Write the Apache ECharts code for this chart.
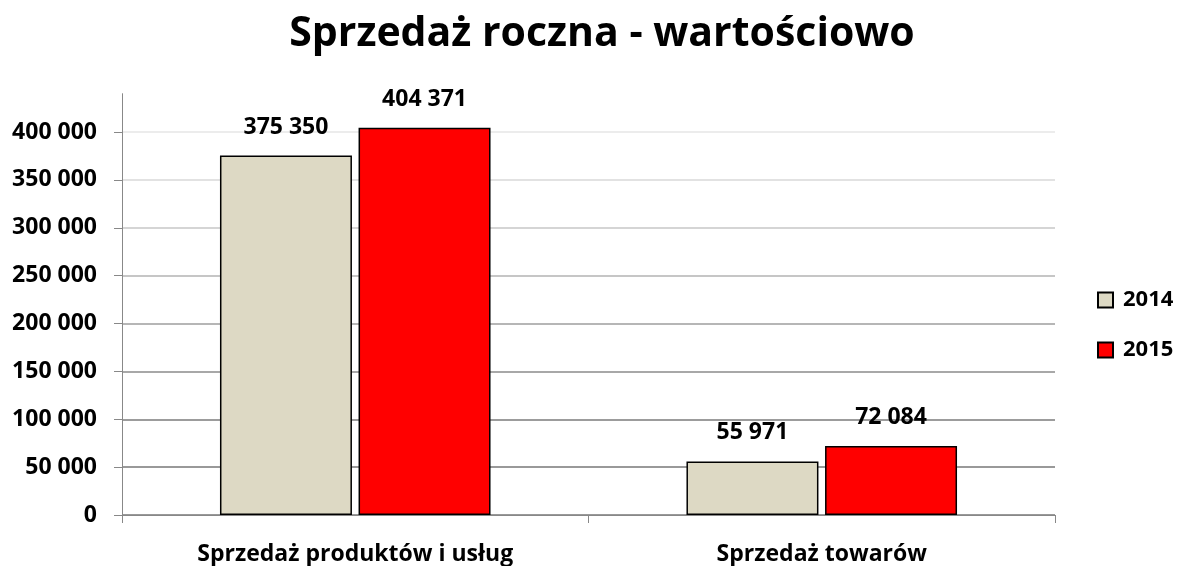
<!DOCTYPE html>
<html>
<head>
<meta charset="utf-8">
<title>Sprzedaż roczna - wartościowo</title>
<script src="https://cdn.jsdelivr.net/npm/echarts@6/dist/echarts.min.js"></script>
<style>
html, body { margin: 0; padding: 0; background: #fff; }
#main { width: 1180px; height: 566px; }
</style>
</head>
<body>
<div id="main"></div>
<script>
var categories = ['Sprzedaż produktów i usług', 'Sprzedaż towarów'];
var years = ['2014', '2015'];
var sales2014 = [375350, 55971];
var sales2015 = [404371, 72084];
var yTicks = [0, 50000, 100000, 150000, 200000, 250000, 300000, 350000, 400000];

var dom = document.getElementById("main");
var myChart = echarts.init(dom);
option = null;
var fontName = 'Open Sans';

// 375350 -> "375 350"
function fmt(v) {
    return String(v).replace(/\B(?=(\d{3})+(?!\d))/g, ' ');
}

// gridlines fade out towards the top (0 ... 400 000, then hidden top line)
var gridColors = ['#999', '#999', '#9c9c9c', '#a8a8a8', '#b6b6b6', '#c6c6c6', '#d5d5d5', '#e2e2e2', '#ececec', 'transparent'];

var valueLabel = {
    show: true,
    position: 'top',
    distance: 17,
    fontFamily: fontName,
    fontSize: 23,
    fontWeight: 'bold',
    color: '#000',
    formatter: function (p) { return fmt(p.value); }
};

option = {
    backgroundColor: '#fff',
    textStyle: { fontFamily: fontName },
    title: {
        text: 'Sprzedaż roczna - wartościowo',
        left: 597,
        textAlign: 'center',
        top: 9,
        textStyle: { fontFamily: fontName, fontSize: 41, fontWeight: 'bold', color: '#000' }
    },
    legend: {
        orient: 'vertical',
        left: 1097,
        top: 289,
        padding: 0,
        icon: 'rect',
        itemWidth: 15,
        itemHeight: 15,
        itemGap: 28,
        data: years,
        textStyle: { fontFamily: fontName, fontSize: 22, lineHeight: 22, fontWeight: 'bold', color: '#000', padding: [0, 0, 0, 5] }
    },
    grid: {
        left: 122,
        right: 125,
        top: 93.7,
        bottom: 51
    },
    xAxis: {
        type: 'category',
        data: categories,
        axisLine: { lineStyle: { color: '#888', width: 1 } },
        axisTick: { show: true, length: 8, lineStyle: { color: '#888' } },
        axisLabel: {
            margin: 28,
            fontFamily: fontName,
            fontSize: 23,
            fontWeight: 'bold',
            color: '#000'
        }
    },
    yAxis: {
        type: 'value',
        min: 0,
        max: 440000,
        interval: 50000,
        axisLine: { show: true, lineStyle: { color: '#888', width: 1 } },
        axisTick: { show: true, length: 8, customValues: yTicks, lineStyle: { color: '#888' } },
        axisLabel: {
            margin: 25,
            customValues: yTicks,
            fontFamily: fontName,
            fontSize: 23,
            fontWeight: 'bold',
            color: '#000',
            formatter: function (v) {
                return v % 50000 === 0 ? fmt(v) : '';
            }
        },
        splitLine: { show: true, lineStyle: { color: gridColors, width: 2 } }
    },
    series: [
        {
            name: years[0],
            type: 'bar',
            barGap: '5%',
            barCategoryGap: '42%',
            data: sales2014,
            itemStyle: { color: '#ddd9c4', borderColor: '#000', borderWidth: 1.5 },
            label: valueLabel
        },
        {
            name: years[1],
            type: 'bar',
            data: sales2015,
            itemStyle: { color: '#ff0000', borderColor: '#000', borderWidth: 1.5 },
            label: valueLabel
        }
    ]
};

if (option && typeof option === "object") {
    myChart.setOption(option, true);
}
</script>
</body>
</html>
